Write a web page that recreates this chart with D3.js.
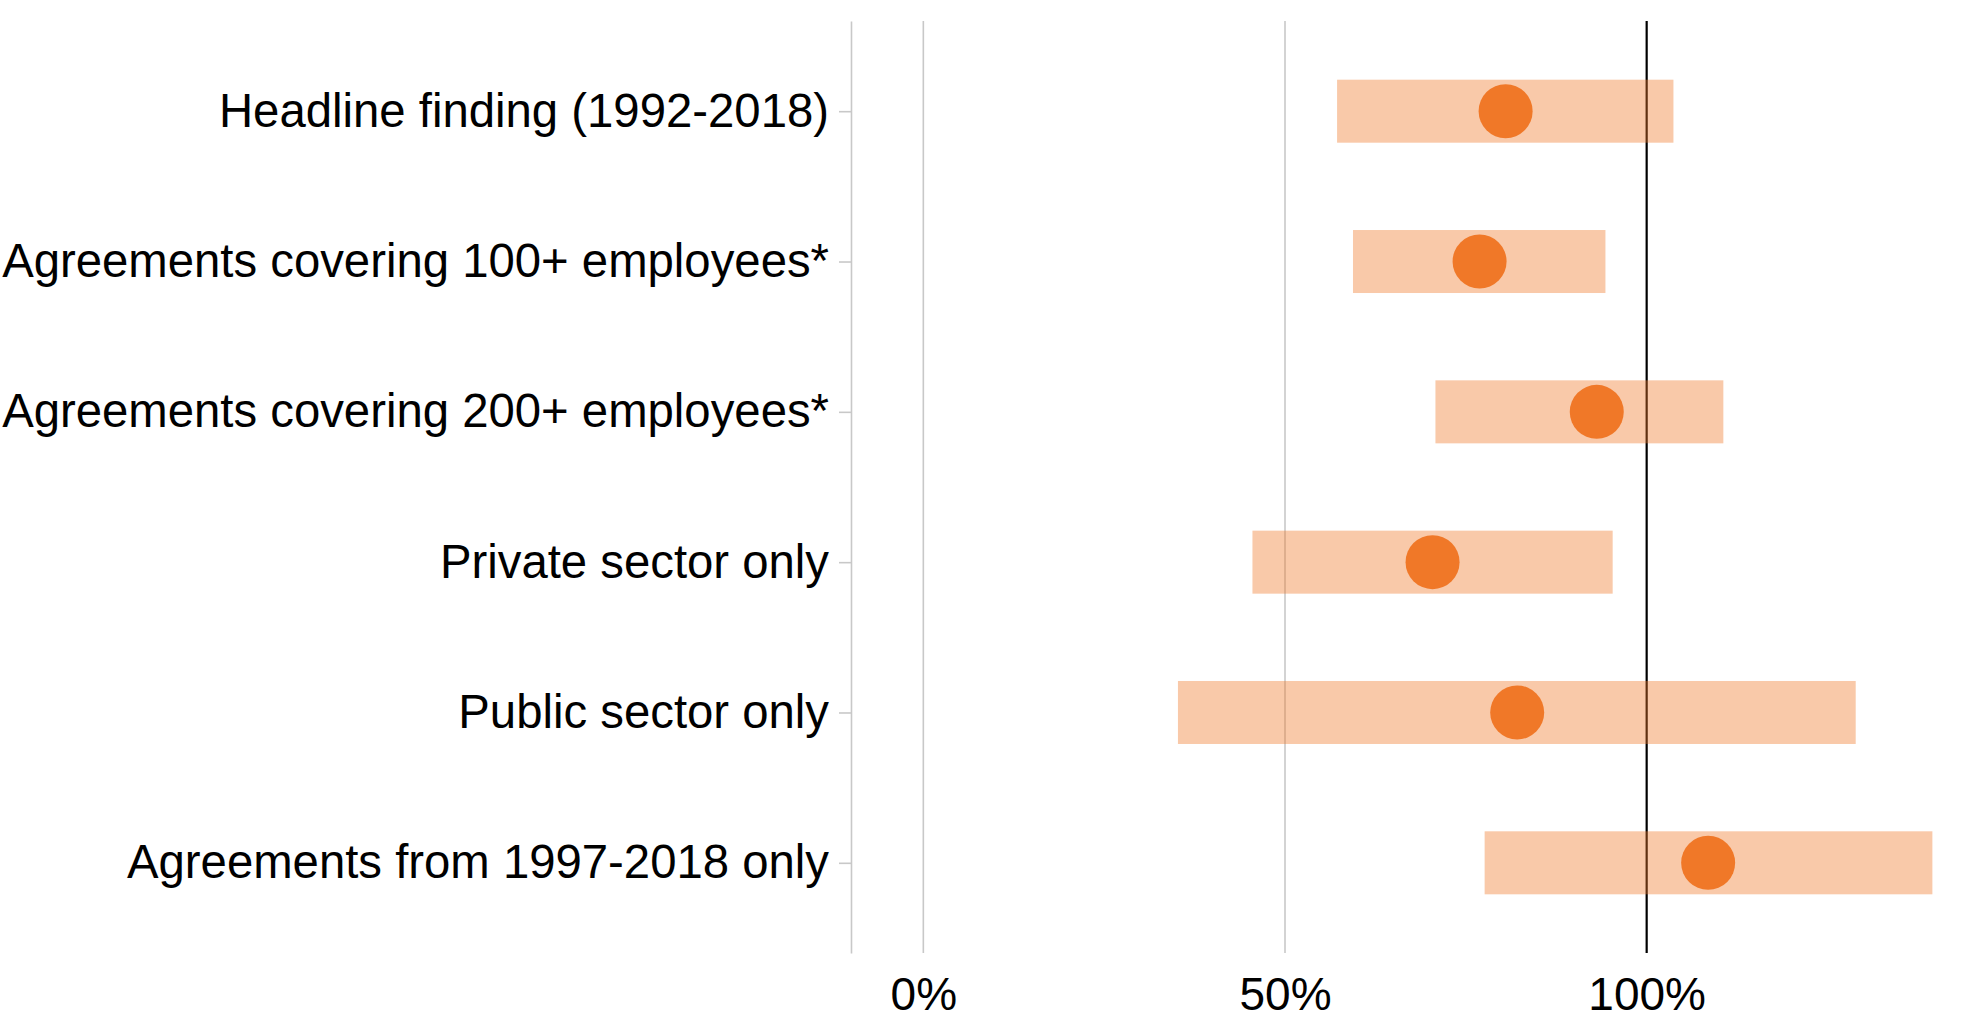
<!DOCTYPE html>
<html>
<head>
<meta charset="utf-8">
<script src="https://cdn.jsdelivr.net/npm/d3@7"></script>
<style>
  html, body { margin: 0; padding: 0; background: #fff; }
  svg { display: block; }
  text { font-family: "Liberation Sans", Arial, sans-serif; fill: #000; }
</style>
</head>
<body>
<svg id="chart" width="1978" height="1024"></svg>
<script>
const categories = [
  "Headline finding (1992-2018)",
  "Agreements covering 100+ employees*",
  "Agreements covering 200+ employees*",
  "Private sector only",
  "Public sector only",
  "Agreements from 1997-2018 only"
];
const estimates = [80.5, 76.9, 93.1, 70.4, 82.1, 108.5];
const lowerBounds = [57.2, 59.4, 70.8, 45.5, 35.2, 77.6];
const upperBounds = [103.7, 94.3, 110.6, 95.3, 128.9, 139.5];
const tickValues = [0, 50, 100];
const tickLabels = ["0%", "50%", "100%"];

(function () {
const rows = categories.map((c, i) => ({
  cat: c, est: estimates[i], lo: lowerBounds[i], hi: upperBounds[i]
}));

const svg = d3.select("#chart");
const plotTop = 21, plotBottom = 953, plotLeft = 851, plotRight = 1936;

const x = d3.scaleLinear().domain([-10, 140]).range([plotLeft, plotRight]);
const y = d3.scalePoint().domain(categories).range([plotTop, plotBottom]).padding(0.6);

// gridlines
svg.append("g").selectAll("line")
  .data(tickValues)
  .join("line")
  .attr("x1", d => x(d)).attr("x2", d => x(d))
  .attr("y1", plotTop).attr("y2", plotBottom)
  .attr("stroke", d => d === 100 ? "#000" : "#c8c8c8")
  .attr("stroke-width", d => d === 100 ? 2.2 : 1.6);

// left axis
const yAxis = svg.append("g")
  .attr("transform", `translate(${plotLeft},0)`)
  .call(d3.axisLeft(y).tickSize(12).tickSizeOuter(0).tickPadding(10));
yAxis.select(".domain").attr("stroke", "#c8c8c8").attr("stroke-width", 1.6);
yAxis.selectAll(".tick line").attr("stroke", "#c8c8c8").attr("stroke-width", 1.6);
yAxis.selectAll(".tick text")
  .attr("font-size", 47.3)
  .attr("font-family", "'Liberation Sans', Arial, sans-serif")
  .attr("fill", "#000");

// bottom axis labels
const xAxis = svg.append("g")
  .attr("transform", `translate(0,${plotBottom})`)
  .call(d3.axisBottom(x).tickValues(tickValues)
        .tickFormat((d, i) => tickLabels[i]).tickSize(0).tickPadding(24));
xAxis.select(".domain").remove();
xAxis.selectAll(".tick text")
  .attr("font-size", 46)
  .attr("font-family", "'Liberation Sans', Arial, sans-serif")
  .attr("fill", "#000");

// interval bars
const barH = 63;
svg.append("g").selectAll("rect")
  .data(rows)
  .join("rect")
  .attr("x", d => x(d.lo))
  .attr("width", d => x(d.hi) - x(d.lo))
  .attr("y", d => y(d.cat) - barH / 2)
  .attr("height", barH)
  .attr("fill", "#F07828")
  .attr("fill-opacity", 0.4);

// point estimates
svg.append("g").selectAll("circle")
  .data(rows)
  .join("circle")
  .attr("cx", d => x(d.est))
  .attr("cy", d => y(d.cat))
  .attr("r", 27)
  .attr("fill", "#F07828");
})();
</script>
</body>
</html>
